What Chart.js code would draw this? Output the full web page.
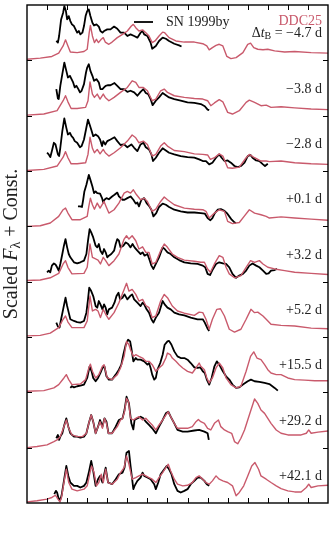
<!DOCTYPE html>
<html>
<head>
<meta charset="utf-8">
<script src="https://cdn.jsdelivr.net/npm/chart.js@4.4.1/dist/chart.umd.min.js"></script>
<style>
  body { margin: 0; background: #fff; }
  canvas { display: block; }
</style>
</head>
<body>
<canvas id="specChart" width="331" height="550"></canvas>
<script>
// epochs (days from B max) and the vertical offset of each pair of spectra
const epochs = ['−4.7', '−3.8', '−2.8', '+0.1', '+3.2', '+5.2', '+15.5', '+29.2', '+42.1'];
const offsets = [8, 7, 6, 5, 4, 3, 2, 1, 0];

// DDC25 model spectra, [wavelength (A), scaled flux]
const ddc_m47 = [[3000,0.02],[3330,0.04],[3620,0.07],[3790,0.13],[3900,0.26],[3960,0.37],[4020,0.26],[4080,0.15],[4250,0.14],[4420,0.16],[4500,0.20],[4550,0.50],[4580,0.63],[4630,0.44],[4680,0.32],[4730,0.38],[4780,0.32],[4850,0.38],[4900,0.41],[4950,0.33],[5040,0.29],[5120,0.33],[5250,0.41],[5380,0.47],[5500,0.53],[5600,0.62],[5650,0.65],[5710,0.59],[5790,0.53],[5880,0.55],[5960,0.50],[6040,0.44],[6120,0.32],[6190,0.35],[6290,0.44],[6380,0.51],[6430,0.50],[6540,0.41],[6710,0.35],[6920,0.33],[7170,0.33],[7380,0.30],[7480,0.26],[7540,0.19],[7620,0.23],[7710,0.27],[7790,0.29],[7880,0.26],[7980,0.07],[8080,0.03],[8210,0.05],[8380,0.14],[8500,0.29],[8570,0.31],[8650,0.23],[8750,0.20],[8880,0.19],[9000,0.20],[9170,0.17],[9420,0.15],[9670,0.16],[10080,0.14],[10500,0.13]];
const ddc_m38 = [[3000,0.01],[3420,0.03],[3750,0.09],[3900,0.27],[3960,0.36],[4020,0.25],[4100,0.13],[4250,0.13],[4460,0.15],[4520,0.27],[4570,0.61],[4630,0.39],[4680,0.33],[4750,0.39],[4820,0.30],[4900,0.39],[4950,0.33],[5040,0.27],[5170,0.33],[5330,0.42],[5500,0.51],[5620,0.63],[5710,0.60],[5790,0.51],[5900,0.51],[6000,0.45],[6120,0.27],[6210,0.30],[6330,0.45],[6420,0.48],[6500,0.42],[6670,0.36],[6920,0.33],[7170,0.31],[7380,0.30],[7500,0.27],[7580,0.18],[7670,0.23],[7790,0.29],[7880,0.25],[8000,0.06],[8120,0.03],[8290,0.09],[8460,0.24],[8540,0.28],[8670,0.24],[8830,0.18],[8960,0.19],[9080,0.15],[9330,0.16],[9670,0.14],[10080,0.12],[10500,0.11]];
const ddc_m28 = [[3000,0.01],[3420,0.03],[3750,0.09],[3900,0.25],[3960,0.35],[4020,0.24],[4100,0.13],[4250,0.13],[4460,0.15],[4520,0.30],[4570,0.61],[4630,0.41],[4680,0.33],[4750,0.39],[4820,0.31],[4900,0.39],[4950,0.33],[5040,0.27],[5170,0.33],[5330,0.42],[5500,0.54],[5620,0.65],[5710,0.60],[5790,0.51],[5900,0.54],[6000,0.48],[6120,0.27],[6210,0.30],[6330,0.45],[6420,0.51],[6500,0.45],[6670,0.37],[6920,0.35],[7170,0.31],[7380,0.30],[7500,0.29],[7570,0.21],[7670,0.24],[7790,0.31],[7880,0.27],[8000,0.06],[8120,0.05],[8290,0.07],[8460,0.24],[8540,0.30],[8670,0.24],[8830,0.18],[8960,0.18],[9040,0.17],[9330,0.18],[9670,0.15],[10080,0.13],[10500,0.12]];
const ddc_p01 = [[3000,0.00],[3330,0.01],[3580,0.06],[3790,0.18],[3900,0.30],[3960,0.33],[4020,0.24],[4120,0.12],[4330,0.12],[4500,0.18],[4540,0.36],[4580,0.51],[4630,0.39],[4680,0.31],[4750,0.42],[4820,0.33],[4920,0.45],[4970,0.36],[5040,0.24],[5170,0.30],[5290,0.42],[5420,0.60],[5500,0.63],[5580,0.60],[5650,0.66],[5730,0.57],[5830,0.48],[5920,0.51],[6000,0.45],[6120,0.27],[6210,0.31],[6330,0.45],[6420,0.53],[6500,0.48],[6670,0.39],[6920,0.33],[7170,0.31],[7380,0.30],[7460,0.27],[7540,0.15],[7670,0.24],[7790,0.30],[7920,0.27],[8000,0.09],[8120,0.05],[8290,0.07],[8420,0.19],[8540,0.30],[8670,0.24],[8830,0.21],[8960,0.18],[9040,0.15],[9330,0.17],[9670,0.15],[10080,0.13],[10500,0.11]];
const ddc_p32 = [[3000,0.02],[3330,0.03],[3580,0.07],[3790,0.15],[3900,0.32],[3960,0.38],[4020,0.26],[4120,0.14],[4420,0.15],[4500,0.26],[4570,0.68],[4630,0.44],[4710,0.41],[4770,0.39],[4830,0.32],[4900,0.44],[4960,0.38],[5040,0.29],[5170,0.38],[5290,0.50],[5420,0.77],[5480,0.83],[5540,0.77],[5620,0.83],[5710,0.74],[5790,0.59],[5880,0.63],[5960,0.53],[6040,0.53],[6120,0.32],[6210,0.35],[6330,0.56],[6420,0.68],[6500,0.62],[6620,0.50],[6750,0.44],[6920,0.39],[7170,0.37],[7330,0.35],[7420,0.35],[7500,0.23],[7570,0.17],[7670,0.32],[7790,0.47],[7880,0.44],[7960,0.26],[8040,0.14],[8170,0.07],[8330,0.11],[8460,0.26],[8570,0.38],[8670,0.35],[8790,0.38],[8880,0.32],[9000,0.26],[9170,0.23],[9420,0.20],[9670,0.17],[10080,0.15],[10500,0.13]];
const ddc_p52 = [[3000,0.02],[3330,0.03],[3580,0.07],[3790,0.17],[3900,0.32],[3960,0.38],[4020,0.27],[4120,0.17],[4420,0.17],[4500,0.29],[4570,0.74],[4630,0.47],[4710,0.50],[4770,0.47],[4830,0.35],[4900,0.50],[4960,0.41],[5040,0.32],[5170,0.44],[5290,0.62],[5420,0.86],[5480,0.97],[5540,0.83],[5620,0.86],[5710,0.77],[5790,0.65],[5880,0.68],[5960,0.57],[6040,0.53],[6120,0.35],[6210,0.38],[6330,0.65],[6420,0.77],[6500,0.71],[6620,0.56],[6750,0.47],[6920,0.43],[7170,0.39],[7290,0.45],[7380,0.44],[7460,0.32],[7540,0.14],[7620,0.32],[7730,0.50],[7820,0.51],[7920,0.38],[8040,0.14],[8170,0.09],[8330,0.14],[8460,0.32],[8580,0.50],[8670,0.44],[8750,0.45],[8880,0.38],[8960,0.32],[9080,0.23],[9330,0.21],[9670,0.20],[10080,0.16],[10500,0.15]];
const ddc_p155 = [[3000,0.02],[3420,0.03],[3670,0.08],[3790,0.14],[3920,0.26],[3980,0.32],[4040,0.23],[4120,0.14],[4330,0.15],[4460,0.23],[4540,0.44],[4580,0.51],[4630,0.38],[4710,0.26],[4790,0.32],[4880,0.47],[4920,0.50],[4960,0.38],[5000,0.26],[5120,0.23],[5250,0.32],[5330,0.44],[5420,0.65],[5480,0.92],[5540,0.86],[5580,0.77],[5650,0.65],[5710,0.68],[5790,0.65],[5880,0.62],[5960,0.56],[6040,0.56],[6120,0.50],[6210,0.38],[6290,0.44],[6380,0.50],[6460,0.62],[6500,0.71],[6570,0.68],[6620,0.62],[6710,0.56],[6790,0.50],[6880,0.44],[7000,0.38],[7120,0.35],[7210,0.44],[7290,0.53],[7330,0.47],[7420,0.41],[7480,0.26],[7540,0.17],[7620,0.26],[7710,0.44],[7790,0.53],[7880,0.44],[7960,0.26],[8080,0.14],[8210,0.08],[8330,0.11],[8460,0.38],[8570,0.65],[8650,0.73],[8730,0.62],[8830,0.59],[8920,0.50],[9000,0.41],[9080,0.35],[9210,0.32],[9330,0.32],[9500,0.26],[9670,0.23],[9920,0.22],[10170,0.21],[10500,0.21]];
const ddc_p292 = [[3000,0.00],[3250,0.02],[3500,0.05],[3670,0.11],[3750,0.14],[3830,0.20],[3920,0.38],[3980,0.50],[4040,0.35],[4120,0.23],[4250,0.20],[4380,0.20],[4480,0.26],[4540,0.44],[4600,0.59],[4650,0.47],[4710,0.26],[4770,0.38],[4820,0.47],[4880,0.35],[4930,0.53],[4980,0.44],[5030,0.26],[5120,0.26],[5250,0.38],[5330,0.50],[5380,0.53],[5430,0.65],[5480,0.89],[5530,0.83],[5580,0.53],[5650,0.50],[5710,0.53],[5790,0.56],[5880,0.50],[5960,0.53],[6040,0.47],[6120,0.41],[6210,0.32],[6290,0.41],[6380,0.50],[6460,0.59],[6520,0.65],[6580,0.56],[6670,0.44],[6750,0.35],[6880,0.35],[7000,0.35],[7120,0.38],[7210,0.47],[7270,0.51],[7330,0.47],[7420,0.44],[7500,0.35],[7580,0.32],[7670,0.44],[7770,0.50],[7830,0.38],[7920,0.32],[8000,0.29],[8100,0.26],[8170,0.11],[8250,0.07],[8330,0.17],[8420,0.32],[8500,0.50],[8580,0.68],[8670,0.88],[8750,0.80],[8830,0.68],[8920,0.62],[9000,0.53],[9080,0.44],[9210,0.32],[9330,0.26],[9500,0.23],[9670,0.23],[9830,0.23],[9960,0.26],[10020,0.32],[10080,0.26],[10250,0.28],[10500,0.30]];
const ddc_p421 = [[3000,0.02],[3250,0.04],[3500,0.07],[3620,0.10],[3710,0.14],[3770,0.07],[3820,0.02],[3860,0.10],[3920,0.37],[3980,0.61],[4040,0.37],[4120,0.25],[4250,0.22],[4420,0.25],[4500,0.31],[4570,0.55],[4610,0.67],[4670,0.55],[4730,0.31],[4790,0.37],[4850,0.52],[4900,0.37],[4960,0.61],[5020,0.37],[5120,0.34],[5250,0.43],[5330,0.55],[5420,0.64],[5480,0.85],[5540,0.70],[5620,0.43],[5710,0.46],[5790,0.49],[5880,0.52],[5960,0.49],[6040,0.46],[6120,0.43],[6210,0.37],[6290,0.46],[6380,0.55],[6460,0.64],[6520,0.70],[6580,0.58],[6670,0.43],[6750,0.34],[6880,0.31],[7000,0.32],[7120,0.37],[7210,0.46],[7290,0.49],[7380,0.43],[7460,0.37],[7540,0.34],[7620,0.40],[7710,0.49],[7790,0.43],[7880,0.40],[8000,0.37],[8120,0.31],[8210,0.13],[8290,0.19],[8400,0.31],[8500,0.49],[8600,0.67],[8680,0.73],[8770,0.61],[8830,0.49],[8960,0.43],[9080,0.37],[9210,0.31],[9330,0.26],[9500,0.22],[9670,0.20],[9830,0.20],[9960,0.28],[10020,0.34],[10080,0.28],[10250,0.31],[10500,0.32]];

// SN 1999by observed spectra
const by_m47 = [[3730,0.35],[3770,0.32],[3800,0.44],[3850,0.74],[3900,0.86],[3930,0.98],[3970,0.89],[4000,0.74],[4040,0.80],[4080,0.71],[4120,0.65],[4170,0.62],[4210,0.56],[4250,0.50],[4290,0.53],[4330,0.47],[4380,0.50],[4420,0.62],[4460,0.80],[4500,0.89],[4540,0.92],[4580,0.80],[4630,0.68],[4670,0.63],[4730,0.65],[4790,0.61],[4830,0.53],[4880,0.50],[4920,0.53],[5000,0.56],[5080,0.56],[5170,0.61],[5250,0.57],[5330,0.50],[5420,0.50],[5500,0.44],[5580,0.47],[5670,0.44],[5750,0.41],[5830,0.50],[5880,0.53],[5920,0.47],[6000,0.44],[6080,0.32],[6120,0.21],[6210,0.26],[6290,0.35],[6380,0.41],[6460,0.39],[6540,0.35],[6670,0.30],[6790,0.27],[6850,0.25]];
const by_m38 = [[3730,0.48],[3770,0.31],[3790,0.30],[3830,0.54],[3880,0.75],[3930,0.96],[3980,0.81],[4020,0.69],[4070,0.72],[4110,0.66],[4150,0.60],[4190,0.51],[4230,0.54],[4280,0.48],[4320,0.42],[4360,0.45],[4420,0.57],[4470,0.78],[4500,0.87],[4540,0.93],[4580,0.81],[4630,0.72],[4670,0.63],[4730,0.66],[4790,0.60],[4830,0.48],[4880,0.48],[4920,0.51],[4960,0.54],[5020,0.55],[5080,0.55],[5180,0.59],[5250,0.54],[5330,0.48],[5420,0.48],[5500,0.43],[5580,0.45],[5670,0.42],[5750,0.36],[5830,0.43],[5900,0.48],[5960,0.41],[6020,0.39],[6080,0.30],[6130,0.19],[6210,0.27],[6290,0.33],[6380,0.41],[6460,0.37],[6540,0.33],[6670,0.30],[6830,0.27],[7000,0.24],[7170,0.23],[7330,0.21],[7430,0.17],[7500,0.11],[7540,0.10]];
const by_m28 = [[3500,0.33],[3540,0.30],[3580,0.25],[3620,0.36],[3670,0.51],[3710,0.48],[3730,0.42],[3770,0.30],[3800,0.27],[3830,0.42],[3880,0.72],[3930,0.95],[3980,0.78],[4020,0.66],[4070,0.69],[4110,0.63],[4150,0.60],[4190,0.54],[4250,0.51],[4320,0.43],[4360,0.45],[4420,0.57],[4470,0.75],[4520,0.93],[4560,0.84],[4600,0.75],[4650,0.63],[4710,0.66],[4770,0.63],[4820,0.57],[4870,0.45],[4900,0.54],[4950,0.48],[5000,0.54],[5080,0.57],[5180,0.61],[5250,0.54],[5330,0.47],[5420,0.48],[5500,0.43],[5600,0.48],[5670,0.42],[5750,0.36],[5830,0.48],[5900,0.51],[5960,0.43],[6040,0.39],[6100,0.30],[6140,0.18],[6210,0.24],[6290,0.33],[6380,0.41],[6460,0.37],[6540,0.33],[6670,0.30],[6830,0.27],[7000,0.25],[7170,0.24],[7290,0.21],[7380,0.18],[7460,0.18],[7540,0.12],[7620,0.15],[7710,0.24],[7790,0.30],[7850,0.24],[7920,0.18],[8000,0.19],[8080,0.15],[8170,0.09],[8250,0.07],[8330,0.09],[8420,0.15],[8500,0.27],[8570,0.29],[8620,0.24],[8710,0.19],[8790,0.18],[8880,0.12],[8930,0.09],[9000,0.13]];
const by_p01 = [[4270,0.36],[4320,0.36],[4370,0.35],[4400,0.48],[4430,0.63],[4480,0.75],[4540,0.93],[4580,0.84],[4630,0.72],[4670,0.60],[4710,0.63],[4750,0.60],[4820,0.59],[4870,0.51],[4900,0.43],[4930,0.48],[4980,0.51],[5040,0.49],[5120,0.54],[5180,0.57],[5250,0.61],[5290,0.54],[5380,0.48],[5430,0.48],[5500,0.51],[5580,0.54],[5650,0.48],[5710,0.41],[5750,0.43],[5790,0.36],[5850,0.48],[5920,0.51],[5980,0.42],[6040,0.37],[6100,0.30],[6150,0.18],[6220,0.24],[6290,0.35],[6380,0.41],[6460,0.39],[6540,0.35],[6670,0.30],[6830,0.27],[7000,0.25],[7170,0.25],[7330,0.24],[7430,0.23],[7500,0.15],[7570,0.11],[7620,0.15],[7680,0.24],[7750,0.30],[7830,0.31],[7920,0.28],[7980,0.24],[8040,0.18],[8100,0.12],[8170,0.07],[8210,0.06]];
const by_p32 = [[3500,0.17],[3540,0.20],[3580,0.17],[3620,0.29],[3670,0.33],[3710,0.31],[3750,0.26],[3790,0.20],[3830,0.32],[3880,0.50],[3920,0.65],[3960,0.77],[4000,0.62],[4040,0.50],[4080,0.44],[4170,0.35],[4250,0.33],[4330,0.35],[4420,0.38],[4480,0.50],[4520,0.74],[4560,0.95],[4600,0.89],[4650,0.80],[4710,0.65],[4750,0.62],[4790,0.68],[4830,0.56],[4880,0.50],[4920,0.59],[4960,0.53],[5000,0.44],[5040,0.47],[5100,0.50],[5170,0.56],[5210,0.68],[5250,0.77],[5290,0.74],[5330,0.62],[5400,0.65],[5460,0.71],[5520,0.68],[5580,0.62],[5630,0.68],[5680,0.62],[5750,0.56],[5830,0.50],[5880,0.53],[5930,0.47],[6000,0.50],[6060,0.38],[6100,0.29],[6150,0.23],[6210,0.32],[6290,0.44],[6380,0.62],[6430,0.59],[6500,0.53],[6580,0.50],[6670,0.44],[6790,0.39],[6920,0.35],[7080,0.33],[7250,0.32],[7380,0.29],[7440,0.26],[7500,0.14],[7560,0.12],[7620,0.21],[7710,0.32],[7790,0.35],[7880,0.33],[7960,0.32],[8040,0.26],[8120,0.14],[8210,0.07],[8290,0.11],[8380,0.14],[8460,0.20],[8540,0.29],[8620,0.33],[8710,0.29],[8790,0.26],[8880,0.20],[8960,0.14],[9020,0.15],[9080,0.20],[9170,0.21],[9230,0.23]];
const by_p52 = [[3730,0.26],[3770,0.19],[3810,0.17],[3850,0.32],[3900,0.50],[3960,0.71],[4000,0.56],[4040,0.44],[4080,0.32],[4170,0.29],[4250,0.27],[4330,0.26],[4420,0.29],[4480,0.44],[4520,0.68],[4550,0.89],[4600,0.83],[4650,0.74],[4710,0.56],[4750,0.53],[4790,0.65],[4830,0.59],[4880,0.50],[4920,0.59],[4960,0.53],[5000,0.41],[5040,0.50],[5120,0.53],[5180,0.62],[5230,0.74],[5280,0.80],[5320,0.68],[5380,0.71],[5430,0.77],[5500,0.68],[5570,0.74],[5620,0.77],[5670,0.68],[5750,0.62],[5830,0.56],[5880,0.62],[5920,0.59],[5980,0.50],[6040,0.44],[6100,0.32],[6150,0.26],[6210,0.35],[6290,0.44],[6380,0.65],[6430,0.59],[6500,0.53],[6580,0.50],[6670,0.44],[6790,0.41],[6920,0.39],[7080,0.35],[7250,0.32],[7380,0.32],[7430,0.26],[7500,0.15],[7540,0.11]];
const by_p155 = [[4080,0.08],[4120,0.11],[4170,0.09],[4250,0.11],[4330,0.12],[4420,0.14],[4500,0.26],[4560,0.47],[4610,0.38],[4650,0.26],[4710,0.20],[4770,0.26],[4830,0.35],[4880,0.44],[4930,0.47],[4980,0.29],[5040,0.23],[5120,0.23],[5210,0.32],[5290,0.41],[5350,0.50],[5400,0.68],[5460,0.86],[5520,0.95],[5570,0.92],[5600,0.80],[5650,0.56],[5710,0.62],[5750,0.59],[5830,0.59],[5920,0.56],[6000,0.50],[6040,0.53],[6080,0.44],[6120,0.32],[6170,0.23],[6210,0.26],[6250,0.41],[6320,0.53],[6380,0.68],[6430,0.86],[6500,0.92],[6540,0.93],[6600,0.86],[6670,0.74],[6750,0.65],[6830,0.62],[6920,0.62],[7000,0.59],[7080,0.53],[7170,0.45],[7250,0.44],[7320,0.45],[7380,0.38],[7430,0.35],[7480,0.23],[7540,0.14],[7600,0.26],[7670,0.47],[7730,0.56],[7790,0.50],[7880,0.38],[7960,0.29],[8040,0.23],[8120,0.14],[8210,0.08],[8290,0.09],[8380,0.14],[8500,0.20],[8580,0.23],[8670,0.20],[8790,0.19],[8920,0.17],[9040,0.15],[9170,0.08],[9250,0.03]];
const by_p292 = [[3730,0.17],[3770,0.23],[3800,0.14],[3830,0.20],[3880,0.26],[3930,0.41],[3980,0.53],[4030,0.38],[4080,0.26],[4170,0.20],[4250,0.20],[4330,0.18],[4420,0.20],[4480,0.26],[4540,0.44],[4600,0.59],[4650,0.47],[4710,0.26],[4770,0.38],[4820,0.50],[4880,0.38],[4930,0.53],[4980,0.47],[5030,0.26],[5120,0.26],[5210,0.38],[5290,0.50],[5380,0.53],[5430,0.68],[5480,0.92],[5540,0.80],[5600,0.44],[5650,0.33],[5680,0.50],[5750,0.53],[5830,0.56],[5900,0.53],[5960,0.47],[6040,0.41],[6120,0.35],[6210,0.26],[6290,0.38],[6380,0.50],[6460,0.62],[6520,0.65],[6580,0.56],[6670,0.44],[6750,0.32],[6880,0.29],[7000,0.29],[7170,0.31],[7290,0.32],[7420,0.29],[7500,0.26],[7530,0.14]];
const by_p421 = [[3680,0.16],[3720,0.22],[3750,0.19],[3780,0.10],[3820,0.04],[3860,0.13],[3920,0.40],[3980,0.67],[4030,0.49],[4080,0.37],[4170,0.31],[4250,0.31],[4330,0.28],[4420,0.31],[4480,0.37],[4540,0.55],[4600,0.76],[4650,0.58],[4710,0.31],[4770,0.43],[4820,0.49],[4880,0.37],[4960,0.64],[5020,0.37],[5120,0.34],[5210,0.43],[5290,0.52],[5380,0.55],[5430,0.64],[5480,0.91],[5540,0.94],[5580,0.67],[5650,0.25],[5680,0.31],[5750,0.40],[5830,0.46],[5880,0.55],[5920,0.49],[6000,0.46],[6080,0.43],[6170,0.34],[6210,0.25],[6270,0.37],[6330,0.52],[6420,0.61],[6480,0.67],[6540,0.61],[6600,0.52],[6670,0.34],[6750,0.22],[6830,0.19],[6920,0.22],[7000,0.25],[7080,0.34],[7170,0.40],[7250,0.46],[7330,0.46],[7420,0.40],[7480,0.34],[7540,0.31]];

const modelSpectra = [ddc_m47, ddc_m38, ddc_m28, ddc_p01, ddc_p32, ddc_p52, ddc_p155, ddc_p292, ddc_p421];
const obsSpectra = [by_m47, by_m38, by_m28, by_p01, by_p32, by_p52, by_p155, by_p292, by_p421];

const pink = '#c95a6c';
const serif = '"Liberation Serif", "Times New Roman", serif';

// build datasets: model first, data on top
let datasets = [];
for (let i = 0; i < epochs.length; i++) {
  datasets.push({
    label: 'DDC25 ' + epochs[i],
    data: modelSpectra[i].map(p => ({ x: p[0], y: p[1] + offsets[i] })),
    borderColor: pink, borderWidth: 1.4, showLine: true, pointRadius: 0, tension: 0
  });
}
for (let i = 0; i < epochs.length; i++) {
  datasets.push({
    label: 'SN 1999by ' + epochs[i],
    data: obsSpectra[i].map(p => ({ x: p[0], y: p[1] + offsets[i] })),
    borderColor: '#000', borderWidth: 1.8, showLine: true, pointRadius: 0, tension: 0
  });
}

// text made of pieces with different fonts (italic, subscripts)
function drawRich(ctx, parts, x, y, align) {
  let total = 0;
  parts.forEach(p => { ctx.font = p.font; p.w = ctx.measureText(p.t).width; total += p.w; });
  let cx = x;
  if (align === 'right') cx = x - total;
  if (align === 'center') cx = x - total / 2;
  parts.forEach(p => { ctx.font = p.font; ctx.fillText(p.t, cx, y + (p.dy || 0)); cx += p.w; });
}

const roman = '14px ' + serif;
const ital = 'italic 14px ' + serif;
const small = '10px ' + serif;

const titleRoman = '20px ' + serif;
const titleItal = 'italic 20px ' + serif;
const titleSmall = '14px ' + serif;

const frameAndText = {
  id: 'frameAndText',
  afterDatasetsDraw(chart) {
    const { ctx, chartArea: a, scales: { x, y } } = chart;
    ctx.save();
    ctx.strokeStyle = '#000';
    ctx.lineWidth = 1.4;
    ctx.strokeRect(a.left, a.top, a.right - a.left, a.bottom - a.top);

    // inward ticks
    ctx.lineWidth = 1;
    ctx.beginPath();
    for (let v = x.min + 500; v < x.max; v += 500) {
      const px = Math.round(x.getPixelForValue(v)) + 0.5;
      ctx.moveTo(px, a.bottom); ctx.lineTo(px, a.bottom - 5);
      ctx.moveTo(px, a.top); ctx.lineTo(px, a.top + 5);
    }
    for (let v = y.min + 1; v < y.max; v++) {
      const py = Math.round(y.getPixelForValue(v)) + 0.5;
      ctx.moveTo(a.left, py); ctx.lineTo(a.left + 5, py);
      ctx.moveTo(a.right, py); ctx.lineTo(a.right - 5, py);
    }
    ctx.stroke();

    ctx.textBaseline = 'middle';
    ctx.fillStyle = '#222';

    // epoch labels
    const rx = a.right - 6;
    for (let i = 0; i < epochs.length; i++) {
      const py = y.getPixelForValue(offsets[i] + 0.48);
      if (i === 0) {
        drawRich(ctx, [
          { t: 'Δ', font: roman }, { t: 't', font: ital },
          { t: 'B', font: small, dy: 3 }, { t: ' = ' + epochs[i] + ' d', font: roman }
        ], rx, py, 'right');
      } else {
        drawRich(ctx, [{ t: epochs[i] + ' d', font: roman }], rx, py, 'right');
      }
    }

    // legend
    ctx.strokeStyle = '#000';
    ctx.lineWidth = 1.8;
    ctx.beginPath();
    ctx.moveTo(134, 22); ctx.lineTo(153, 22);
    ctx.stroke();
    drawRich(ctx, [{ t: 'SN 1999by', font: roman }], 166, 22, 'left');
    ctx.fillStyle = pink;
    drawRich(ctx, [{ t: 'DDC25', font: roman }], rx, 21, 'right');

    // y axis title
    ctx.fillStyle = '#222';
    ctx.translate(12, (a.top + a.bottom) / 2 - 10);
    ctx.rotate(-Math.PI / 2);
    drawRich(ctx, [
      { t: 'Scaled ', font: titleRoman }, { t: 'F', font: titleItal },
      { t: 'λ', font: titleSmall, dy: 4 }, { t: ' + Const.', font: titleRoman }
    ], 0, 0, 'center');
    ctx.restore();
  }
};

new Chart(document.getElementById('specChart'), {
  type: 'scatter',
  data: { datasets: datasets },
  options: {
    responsive: false,
    animation: false,
    devicePixelRatio: 1,
    layout: { padding: { left: 27, right: 3, top: 5, bottom: 47 } },
    plugins: { legend: { display: false }, tooltip: { enabled: false } },
    elements: { line: { borderJoinStyle: 'round' } },
    scales: {
      x: { type: 'linear', min: 3000, max: 10500, display: false },
      y: { type: 'linear', min: 0, max: 9, display: false }
    }
  },
  plugins: [frameAndText]
});
</script>
</body>
</html>
